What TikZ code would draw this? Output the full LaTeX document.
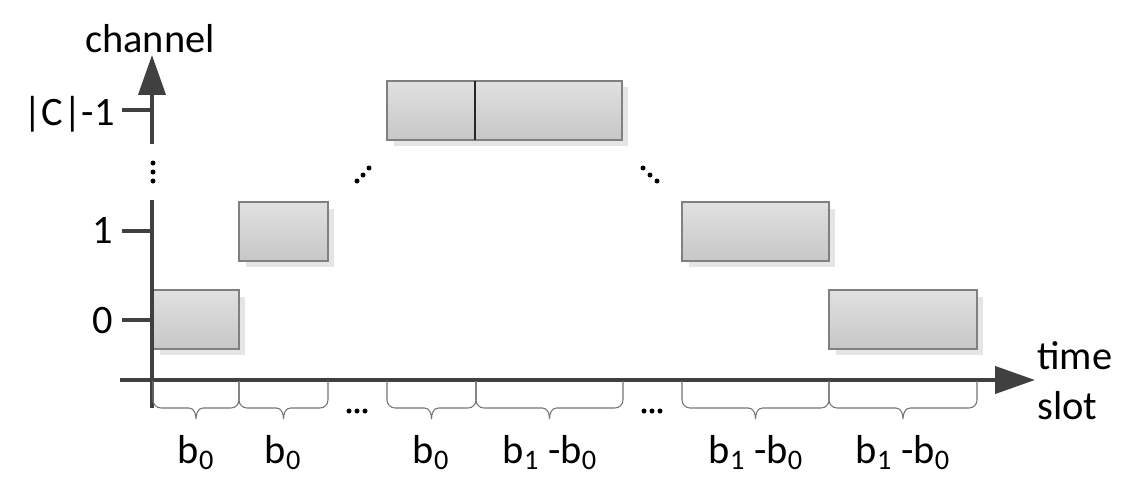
\documentclass[tikz,border=0pt]{standalone}
\usepackage{fontspec}
\setmainfont{Carlito}
\usetikzlibrary{arrows.meta}
\usetikzlibrary{shadows}
\usetikzlibrary{positioning}
\tikzstyle{slot} = [rectangle, draw=black!50, line width=0.8pt,
    top color=black!12, bottom color=black!22, inner sep=0pt, outer sep=0pt,
    minimum height=1.18cm, anchor=north west,
    drop shadow={shadow xshift=0.13cm, shadow yshift=-0.13cm, fill=black!10, opacity=1}]
\tikzstyle{axis} = [draw=black!75, line width=2.3pt]
\tikzstyle{tick} = [draw=black!75, line width=1.8pt]
\tikzstyle{brc} = [draw=black!55, line width=0.6pt]
\tikzstyle{lbl} = [inner sep=0pt, anchor=base]
\tikzstyle{tip} = [-{Triangle[length=0.8cm, width=0.54cm]}]

% brace under the time axis, from x=#1 to x=#2
\newcommand{\slotbrace}[2]{%
  \pgfmathsetmacro{\bm}{(#1+#2)/2}%
  \pgfmathsetmacro{\bl}{\bm-7}%
  \pgfmathsetmacro{\br}{\bm+7}%
  \pgfmathsetmacro{\ba}{#1+8}%
  \pgfmathsetmacro{\bb}{#2-8}%
  \draw[brc] (#1,381) -- (#1,400) to[out=-90,in=180] (\ba,408)
    -- (\bl,408) to[out=0,in=90] (\bm,419)
    to[out=90,in=180] (\br,408) -- (\bb,408)
    to[out=0,in=-90] (#2,400) -- (#2,381);}

\begin{document}
\begin{tikzpicture}[x=0.02cm, y=-0.02cm, font=\fontsize{23}{28.5}\selectfont]
    \useasboundingbox (0,0) rectangle (1147,497);
    % Place boxes
    \node [slot, minimum width=1.72cm] (s0) at (153,290) {};
    \node [slot, minimum width=1.78cm] (s1) at (239,202) {};
    \node [slot, minimum width=1.76cm] (t0) at (387,81) {};
    \node [slot, minimum width=2.94cm] (t1) at (t0.north east) {};
    \draw[black!85, line width=0.8pt] (t0.north east) -- (t0.south east);
    \node [slot, minimum width=2.94cm] (r1) at (682,202) {};
    \node [slot, minimum width=2.96cm] (r0) at (829,290) {};
    % Axes
    \coordinate (ybot) at (152,408);
    \coordinate (ygap) at (152,200);
    \coordinate (ytop) at (152,144);
    \coordinate (yend) at (152,55);
    \coordinate (xbeg) at (120,380);
    \coordinate (xend) at (1035,380);
    \draw[axis] (ybot) -- (ygap);
    \draw[axis,tip] (ytop) -- (yend);
    \draw[axis,tip] (xbeg) -- (xend);
    \draw[tick] (122,110) -- (152,110);
    \draw[tick] (122,231) -- (152,231);
    \draw[tick] (122,320) -- (152,320);
    \node[lbl, anchor=base east] (lc) at (115,125) {|C|-1};
    \node[lbl, anchor=base east] (l1) at (113,243) {1};
    \node[lbl, anchor=base east] (l0) at (113,333) {0};
    \node[lbl] (ch) at (150,52) {channel};
    \node[inner sep=0pt, anchor=west, align=left] (ts) at (1037,381) {time\\slot};
    % Dots
    \foreach \y in {163,172,181} \fill (153,\y) circle (0.05cm);
    \foreach \x/\y in {357/181,363/175,369/168,643/168,650/175,657/181}
        \fill (\x,\y) circle (0.05cm);
    \foreach \x in {349,357,365,644,652,660} \fill (\x,411) circle (0.05cm);
    % Braces and widths
    \slotbrace{153}{239}
    \slotbrace{239}{328}
    \slotbrace{387}{476}
    \slotbrace{476}{623}
    \slotbrace{682}{829}
    \slotbrace{829}{977}
    \node[lbl] (w0) at (196,463) {b\textsubscript{0}};
    \node[lbl] (w1) at (283,463) {b\textsubscript{0}};
    \node[lbl] (w2) at (431,463) {b\textsubscript{0}};
    \node[lbl] (w3) at (550,463) {b\textsubscript{1} -b\textsubscript{0}};
    \node[lbl] (w4) at (756,463) {b\textsubscript{1} -b\textsubscript{0}};
    \node[lbl] (w5) at (903,463) {b\textsubscript{1} -b\textsubscript{0}};
\end{tikzpicture}
\end{document}
